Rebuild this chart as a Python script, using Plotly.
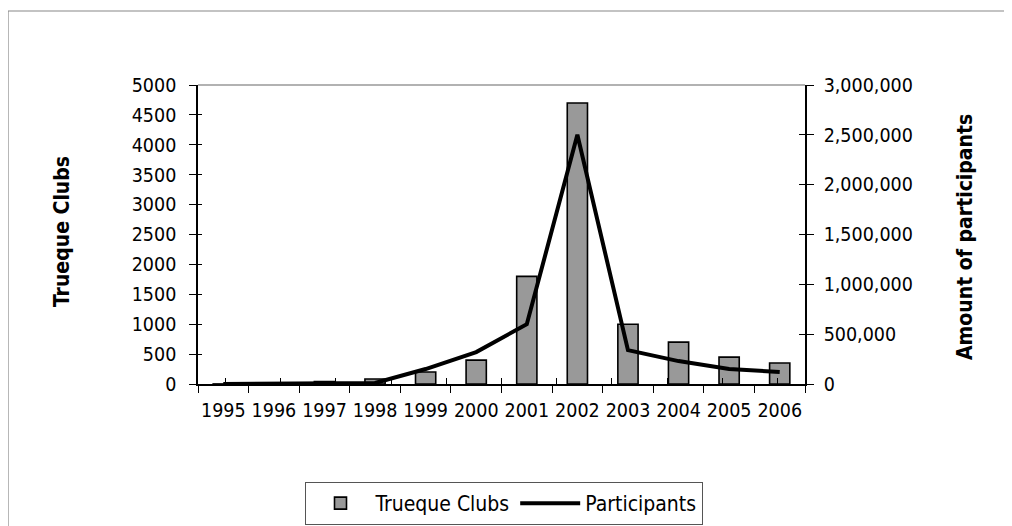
import plotly.graph_objects as go

years = ["1995", "1996", "1997", "1998", "1999", "2000", "2001", "2002", "2003", "2004", "2005", "2006"]
clubs = [1, 17, 40, 83, 200, 400, 1800, 4700, 1000, 700, 450, 350]
participants = [20, 1000, 2500, 10000, 150000, 320000, 600000, 2500000, 340000, 230000, 150000, 120000]

FONT = "DejaVu Sans Condensed"
OFF = 8  # page body margin
W, H = 1012, 526
L, R, T, B = 198 - OFF, 805 - OFF, 85 - OFF, 384 - OFF
pw, ph = R - L, B - T

def px(x):  # screen x -> paper
    return (x - OFF - L) / pw

def py(y):  # screen y -> paper
    return (B - (y - OFF)) / ph

fig = go.Figure()
fig.add_trace(go.Bar(
    x=years, y=clubs, name="Trueque Clubs",
    marker=dict(color="#999999", line=dict(color="black", width=1.6)),
    yaxis="y",
))
fig.add_trace(go.Scatter(
    x=years, y=participants, name="Participants", mode="lines",
    line=dict(color="black", width=4),
    yaxis="y2",
))
# invisible helper traces so the inner tick marks (crossing ticks) are drawn
fig.add_trace(go.Scatter(x=years, y=clubs, xaxis="x2", yaxis="y3", mode="lines",
                         line=dict(width=0), opacity=0, showlegend=False, hoverinfo="skip"))
fig.add_trace(go.Scatter(x=years, y=participants, xaxis="x2", yaxis="y4", mode="lines",
                         line=dict(width=0), opacity=0, showlegend=False, hoverinfo="skip"))

tf = dict(family=FONT, size=19.5, color="black")
fig.update_layout(
    width=W, height=H,
    margin=dict(l=L, r=W - R, t=T, b=H - B, autoexpand=False),
    paper_bgcolor="white", plot_bgcolor="white",
    font=tf,
    bargap=0.6,
    showlegend=True,
    legend=dict(
        orientation="h", x=px(503.5), y=py(482), xanchor="center", yanchor="top",
        bordercolor="#555555", borderwidth=1, bgcolor="white",
        font=dict(family=FONT, size=21, color="black"), itemwidth=60, tracegroupgap=0,
    ),
    xaxis=dict(
        type="category", tickson="boundaries", ticks="outside", ticklen=7,
        tickcolor="black", showline=True, linecolor="black", linewidth=1.5,
        showgrid=False, tickfont=tf, tickangle=0, ticklabelstandoff=8,
        automargin=False,
    ),
    xaxis2=dict(
        type="category", tickson="boundaries", ticks="inside", ticklen=6,
        tickcolor="black", overlaying="x", anchor="y", side="bottom",
        showticklabels=False, showline=False, showgrid=False, automargin=False,
    ),
    yaxis=dict(
        range=[0, 5000], dtick=500, ticks="outside", ticklen=7, tickcolor="black",
        showline=True, linecolor="black", linewidth=1.5, showgrid=False,
        zeroline=False, tickfont=tf, ticklabelstandoff=9, automargin=False,
    ),
    yaxis2=dict(
        range=[0, 3000000], dtick=500000, tickformat=",", overlaying="y",
        side="right", ticks="outside", ticklen=7, tickcolor="black",
        showline=True, linecolor="black", linewidth=1.5, showgrid=False,
        zeroline=False, tickfont=tf, ticklabelstandoff=6, automargin=False,
    ),
    yaxis3=dict(
        range=[0, 5000], dtick=500, ticks="inside", ticklen=4, tickcolor="black",
        overlaying="y", side="left", showticklabels=False, showline=False,
        showgrid=False, zeroline=False, automargin=False,
    ),
    yaxis4=dict(
        range=[0, 3000000], dtick=500000, ticks="inside", ticklen=6, tickcolor="black",
        overlaying="y", side="right", showticklabels=False, showline=False,
        showgrid=False, zeroline=False, automargin=False,
    ),
    annotations=[
        dict(text="<b>Trueque Clubs</b>", textangle=-90, xref="paper", yref="paper",
             x=px(62), y=py(232), showarrow=False, font=dict(size=21, family=FONT, color="black"),
             xanchor="center", yanchor="middle"),
        dict(text="<b>Amount of participants</b>", textangle=-90, xref="paper", yref="paper",
             x=px(965), y=py(237), showarrow=False, font=dict(size=21, family=FONT, color="black"),
             xanchor="center", yanchor="middle"),
    ],
    shapes=[
        dict(type="line", xref="paper", yref="paper", x0=0, x1=1, y0=1, y1=1,
             line=dict(color="#999999", width=1.5)),
        dict(type="rect", xref="paper", yref="paper", x0=px(8), x1=px(1040),
             y0=py(560), y1=py(11), line=dict(color="#888888", width=1.2),
             layer="below"),
    ],
)

fig.write_html("out.html")
